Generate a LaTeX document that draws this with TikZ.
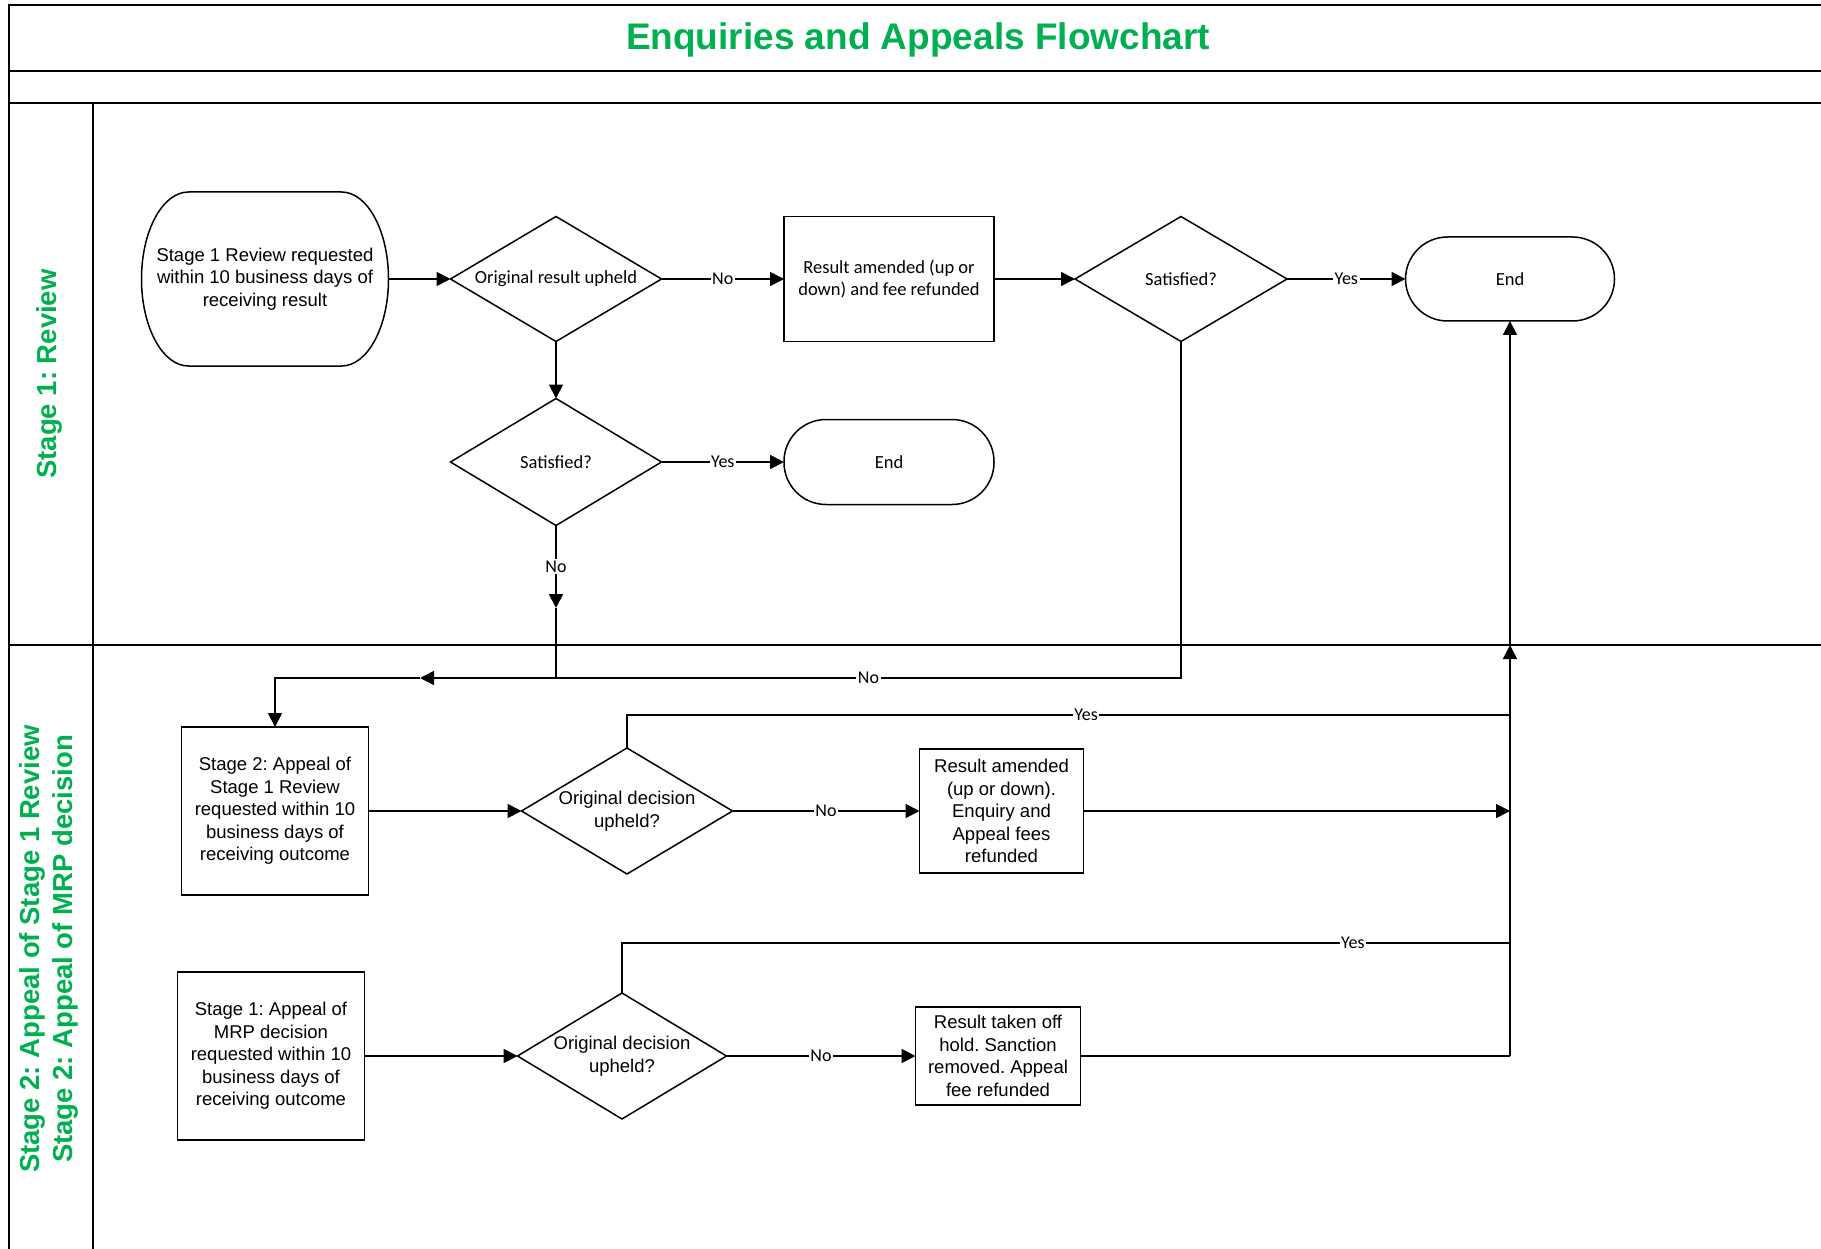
\documentclass[tikz,border=0pt]{standalone}
\usepackage{fontspec}
\usetikzlibrary{arrows.meta,shapes.geometric,calc}
\newfontfamily\arialf{Liberation Sans}
\newfontfamily\calf{Carlito}
\definecolor{titlegreen}{RGB}{0,176,80}
\frenchspacing
\begin{document}
\begin{tikzpicture}[x=1pt,y=-1pt,
  frame/.style={line width=1.8pt},
  arialtxt/.style={font=\arialf\fontsize{18.5}{22.6}\selectfont, align=center},
  caltxt/.style={font=\calf\fontsize{18.5}{22.6}\selectfont, align=center},
  procbox/.style={draw, line width=1.5pt, rectangle, inner sep=0pt, outer sep=0pt},
  decbox/.style={draw, line width=1.5pt, diamond, shape aspect=1.68, inner sep=0pt, outer sep=0pt},
  termbox/.style={draw, line width=1.5pt, rectangle, rounded corners=42pt, inner sep=0pt, outer sep=0pt},
  conn/.style={line width=1.8pt},
  arr/.style={-{Triangle[length=14pt,width=14pt]}},
  lbl/.style={font=\calf\fontsize{18}{20}\selectfont, fill=white, inner sep=1.5pt},
  lanetxt/.style={font=\arialf\bfseries\fontsize{27.5}{33.5}\selectfont, text=titlegreen, align=center, rotate=90}
]
\useasboundingbox (0,0) rectangle (1821,1249);
% frame
\draw[frame] (9,1249) -- (9,5) -- (1821,5);
\draw[frame] (9,71) -- (1821,71);
\draw[frame] (9,103) -- (1821,103);
\draw[frame] (9,645) -- (1821,645);
\draw[line width=1.5pt] (93,103) -- (93,1249);
\node[font=\arialf\bfseries\fontsize{37}{44}\selectfont, text=titlegreen] (title) at (918,40) {Enquiries and Appeals Flowchart};
\node[lanetxt] (lane1) at (49,374) {Stage 1: Review};
\node[lanetxt] (lane2) at (49,949) {Stage 2: Appeal of Stage 1 Review\\Stage 2: Appeal of MRP decision};

% lane 1 nodes
\node[arialtxt, minimum width=247pt, minimum height=174pt, inner sep=0pt, outer sep=0pt] (start) at (265,279)
  {Stage 1 Review requested\\within 10 business days of\\receiving result};
\draw[line width=1.5pt, shift={(start.center)}]
  (-76.5,-87) -- (76.5,-87)
  .. controls (102.5,-87) and (123.5,-48) .. (123.5,0)
  .. controls (123.5,48) and (102.5,87) .. (76.5,87)
  -- (-76.5,87)
  .. controls (-102.5,87) and (-123.5,48) .. (-123.5,0)
  .. controls (-123.5,-48) and (-102.5,-87) .. (-76.5,-87) -- cycle;
\node[decbox, caltxt, minimum width=211pt, minimum height=125pt] (dec1) at (556,279) {Original result upheld};
\node[procbox, caltxt, minimum width=210pt, minimum height=125pt] (r1) at (889,279) {Result amended (up or\\down) and fee refunded};
\node[decbox, caltxt, minimum width=212pt, minimum height=125pt] (sat2) at (1181,279) {Satisfied?};
\node[termbox, caltxt, minimum width=209pt, minimum height=84pt] (end1) at (1510,279) {End};
\node[decbox, caltxt, minimum width=211pt, minimum height=127pt] (sat1) at (556,462) {Satisfied?};
\node[termbox, caltxt, minimum width=210pt, minimum height=85pt] (end2) at (889,462) {End};

% lane 2 nodes
\node[procbox, arialtxt, minimum width=187pt, minimum height=168pt] (box2) at (275,811)
  {Stage 2: Appeal of\\Stage 1 Review\\requested within 10\\business days of\\receiving outcome};
\node[decbox, arialtxt, minimum width=211pt, minimum height=126pt] (dec2) at (627,811) {Original decision\\upheld?};
\node[procbox, arialtxt, minimum width=164pt, minimum height=124pt] (r2) at (1001.5,811)
  {Result amended\\(up or down).\\Enquiry and\\Appeal fees\\refunded};
\node[procbox, arialtxt, minimum width=187pt, minimum height=168pt] (box3) at (271,1056)
  {Stage 1: Appeal of\\MRP decision\\requested within 10\\business days of\\receiving outcome};
\node[decbox, arialtxt, minimum width=209pt, minimum height=126pt] (dec3) at (622,1056) {Original decision\\upheld?};
\node[procbox, arialtxt, minimum width=165pt, minimum height=98pt] (r3) at (998,1056)
  {Result taken off\\hold. Sanction\\removed. Appeal\\fee refunded};

% helper coordinates
\coordinate (jn1) at (556,608);
\coordinate (jc) at (556,678);
\coordinate (jl) at (420,678);
\coordinate (jr) at (1181,678);
\coordinate (vtip) at (1510,645);
\coordinate (vmid) at (1510,811);
\coordinate (y2l) at (627,715);
\coordinate (y2r) at (1510,715);
\coordinate (y3l) at (622,943);
\coordinate (y3r) at (1510,943);
\coordinate (vbot) at (1510,1056);

% lane 1 connectors
\draw[conn,arr] (start.east) -- (dec1.west);
\draw[conn,arr] (dec1.east) -- node[lbl]{No} (r1.west);
\draw[conn,arr] (r1.east) -- (sat2.west);
\draw[conn,arr] (sat2.east) -- node[lbl]{Yes} (end1.west);
\draw[conn,arr] (dec1.south) -- (sat1.north);
\draw[conn,arr] (sat1.east) -- node[lbl]{Yes} (end2.west);
\draw[conn,arr] (sat1.south) -- node[lbl]{No} (jn1);
\draw[conn] (jn1) -- (jc);
\draw[conn] (sat2.south) -- (jr) -- node[lbl]{No} (jc);
\draw[conn,arr] (jc) -- (jl);
\draw[conn,arr] (jl) -| (box2.north);

% lane 2 connectors
\draw[conn,arr] (box2.east) -- (dec2.west);
\draw[conn,arr] (dec2.east) -- node[lbl]{No} (r2.west);
\draw[conn,arr] (r2.east) -- (vmid);
\draw[conn] (dec2.north) -- (y2l) -- node[lbl,pos=0.52]{Yes} (y2r);
\draw[conn,arr] (box3.east) -- (dec3.west);
\draw[conn,arr] (dec3.east) -- node[lbl]{No} (r3.west);
\draw[conn] (dec3.north) -- (y3l) -- node[lbl,pos=0.823]{Yes} (y3r);
\draw[conn] (r3.east) -- (vbot);
\draw[conn,arr] (vbot) -- (vtip);
\draw[conn,arr] (vtip) -- (end1.south);
\end{tikzpicture}
\end{document}
